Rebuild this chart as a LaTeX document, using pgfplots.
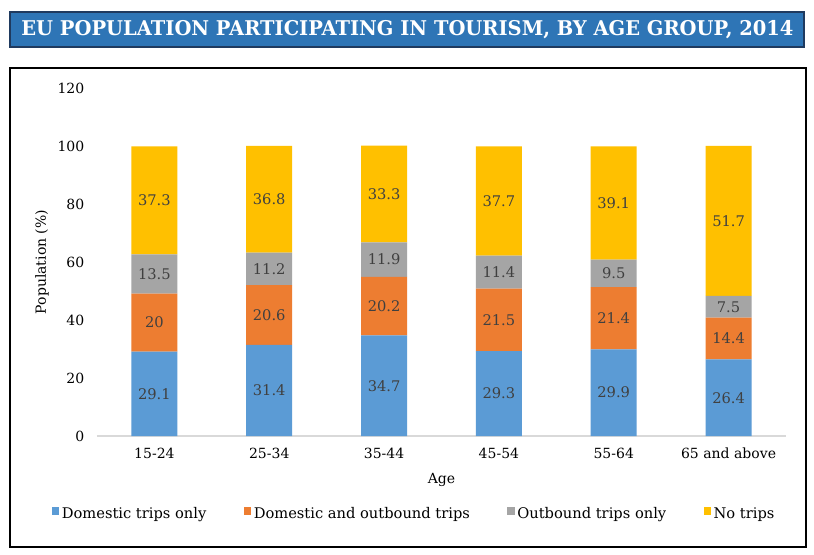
\documentclass[border=0pt]{standalone}
\usepackage{pgfplots}
\pgfplotsset{compat=1.18}
\usepackage{pgfplotstable}
\usepackage{graphicx}
\usepackage{fontspec}
\setmainfont{DejaVu Serif}

\definecolor{domblue}{HTML}{5B9BD5}
\definecolor{domorange}{HTML}{ED7D31}
\definecolor{outgray}{HTML}{A5A5A5}
\definecolor{nogold}{HTML}{FFC000}
\definecolor{titleblue}{HTML}{2E75B6}
\definecolor{titleedge}{HTML}{1F3A5F}
\definecolor{labeltext}{HTML}{404040}
\definecolor{axisgray}{HTML}{D9D9D9}

% share of EU population, %, by age group
\pgfplotstableread{
x dom both out none
0 29.1 20   13.5 37.3
1 31.4 20.6 11.2 36.8
2 34.7 20.2 11.9 33.3
3 29.3 21.5 11.4 37.7
4 29.9 21.4 9.5  39.1
5 26.4 14.4 7.5  51.7
}\tourism

\begin{document}
\begin{tikzpicture}
\useasboundingbox (0,0) rectangle (610.5pt,-416.25pt);
\fill[white] (0,0) rectangle (610.5pt,-416.25pt);

% title banner
\draw[fill=titleblue, draw=titleedge, line width=0.9pt] (7.5pt,-9pt) rectangle (603pt,-35.25pt);
\node[text=white, inner sep=0pt] at (305.6pt,-22.3pt)
  {\resizebox{579pt}{11.3pt}{\bfseries EU POPULATION PARTICIPATING IN TOURISM, BY AGE GROUP, 2014}};

% chart frame
\draw[line width=1.2pt] (7.5pt,-51pt) rectangle (604.5pt,-410.25pt);

\begin{axis}[
  at={(72.75pt,-327pt)}, anchor=south west,
  width=516.75pt, height=261pt, scale only axis,
  ybar stacked, bar width=34.5pt,
  xmin=-0.5, xmax=5.5, ymin=0, ymax=120,
  ytick={0,20,...,120},
  xtick=data,
  xticklabels={15-24,25-34,35-44,45-54,55-64,65 and above},
  major tick length=0pt,
  axis x line*=bottom, axis y line*=left,
  x axis line style={draw=axisgray, line width=0.8pt, -},
  y axis line style={draw=none},
  /pgf/number format/assume math mode=true,
  tick label style={font=\fontsize{10.5}{12}\selectfont, text=black},
  xticklabel style={yshift=-5.5pt},
  yticklabel style={xshift=-6pt},
  xlabel={Age}, ylabel={Population (\%)},
  xlabel style={at={(axis description cs:0.5,-0.125)}, anchor=center, font=\fontsize{10.5}{12}\selectfont},
  ylabel style={at={(axis description cs:-0.0798,0.5)}, anchor=center, font=\fontsize{10.5}{12}\selectfont},
  point meta=explicit,
  nodes near coords,
  every node near coord/.append style={anchor=center, font=\fontsize{11}{12}\selectfont,
    text=labeltext},
  legend columns=4,
  legend style={at={(axis description cs:0.4608,-0.224)}, anchor=center, draw=none,
    font=\fontsize{11}{12}\selectfont,
    /tikz/every even column/.append style={column sep=26pt}},
  legend image code/.code={\fill[#1] (0pt,-0.5pt) rectangle (5.5pt,5pt);},
]
\addplot[fill=domblue, draw=none] table[x=x, y=dom, meta=dom] {\tourism};
\addplot[fill=domorange, draw=none] table[x=x, y=both, meta=both] {\tourism};
\addplot[fill=outgray, draw=none] table[x=x, y=out, meta=out] {\tourism};
\addplot[fill=nogold, draw=none] table[x=x, y=none, meta=none] {\tourism};
\legend{Domestic trips only, Domestic and outbound trips, Outbound trips only, No trips}
\end{axis}
\end{tikzpicture}
\end{document}
